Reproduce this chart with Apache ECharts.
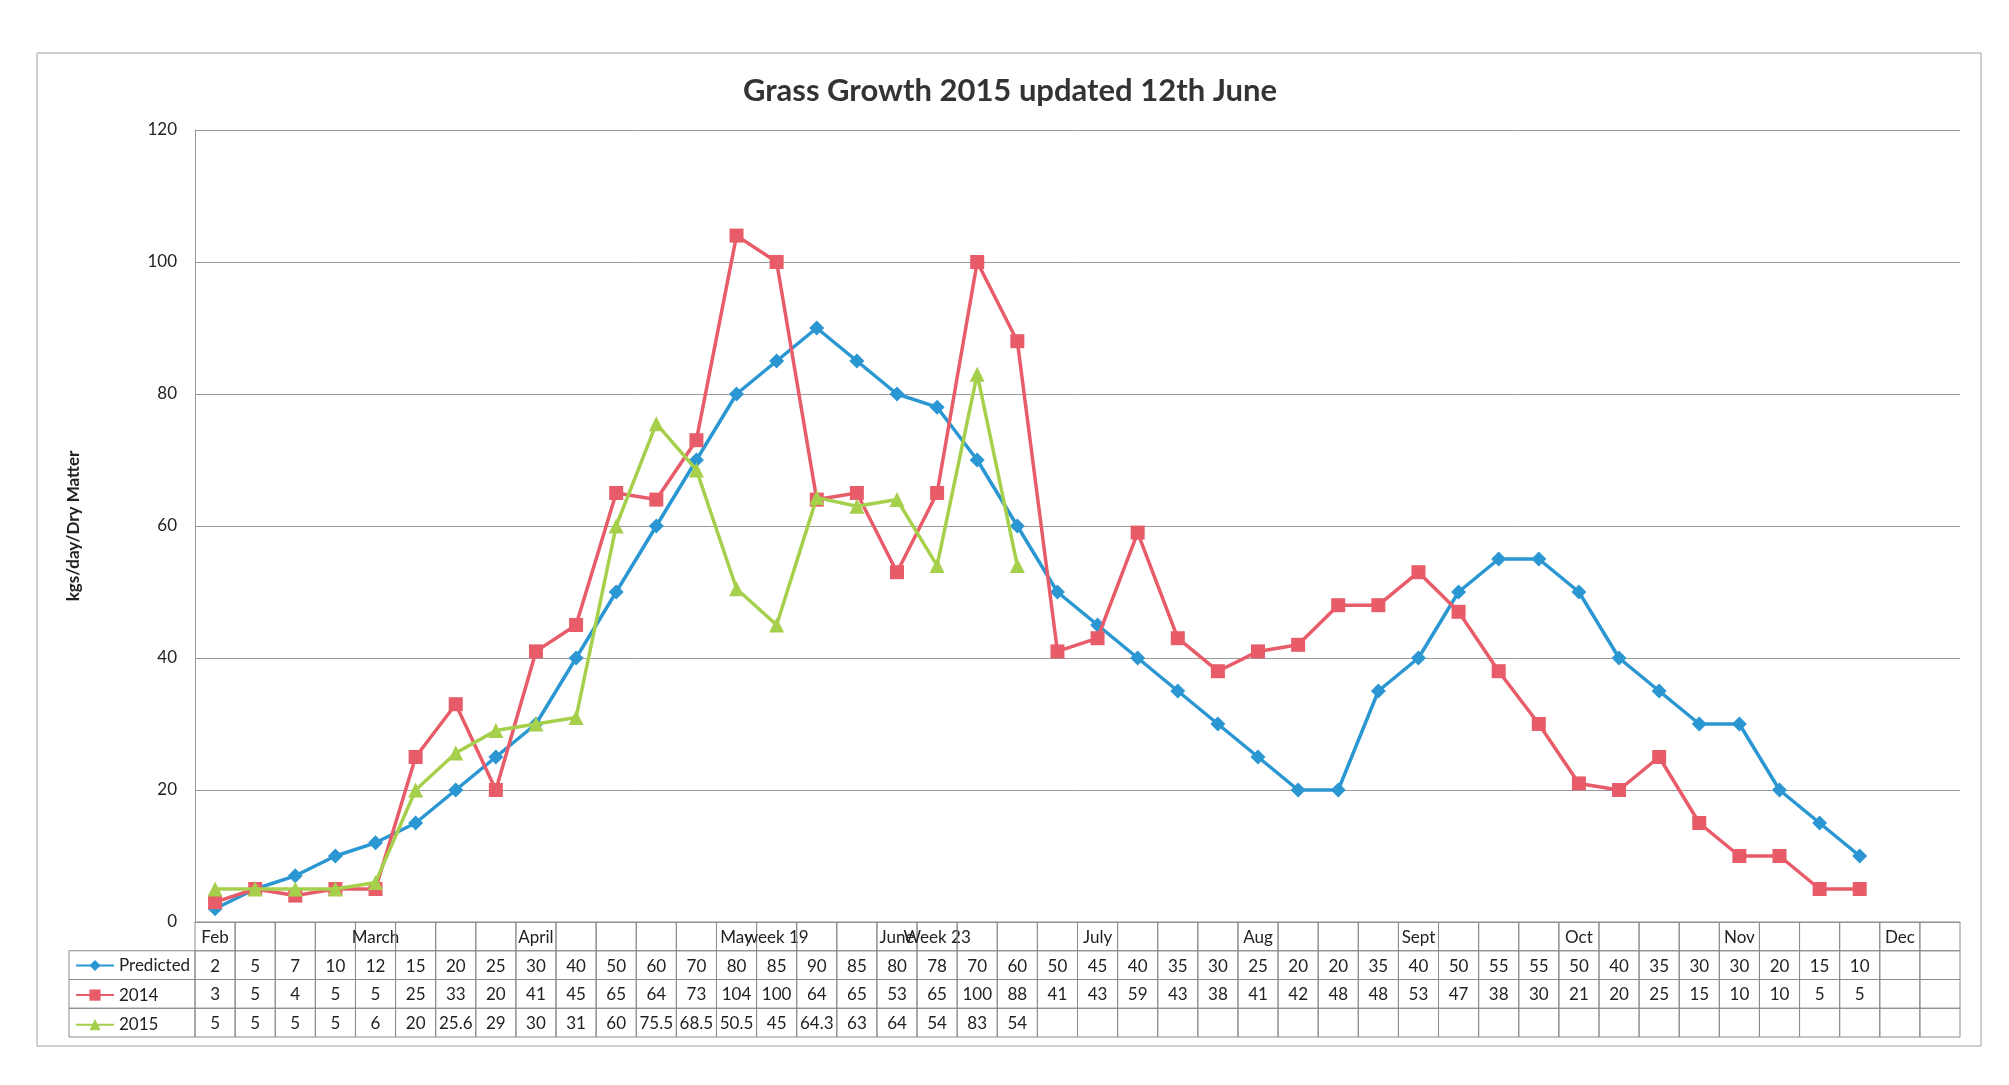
<!DOCTYPE html>
<html>
<head>
<meta charset="utf-8">
<script src="https://cdn.jsdelivr.net/npm/echarts@6/dist/echarts.min.js"></script>
<style>
  html, body { margin: 0; padding: 0; background: #fff; }
  #main { width: 2009px; height: 1085px; }
</style>
</head>
<body>
<div id="main"></div>
<script>
// column headings of the data table (one per week)
var weeks = ['Feb', '', '', '', 'March', '', '', '', 'April', '', '', '', '',
  'May', 'week 19', '', '', 'June', 'Week 23', '', '', '', 'July', '', '', '',
  'Aug', '', '', '', 'Sept', '', '', '', 'Oct', '', '', '', 'Nov', '', '', '',
  'Dec', ''];

var predicted = [2, 5, 7, 10, 12, 15, 20, 25, 30, 40, 50, 60, 70, 80, 85, 90, 85,
  80, 78, 70, 60, 50, 45, 40, 35, 30, 25, 20, 20, 35, 40, 50, 55, 55, 50, 40,
  35, 30, 30, 20, 15, 10];

var y2014 = [3, 5, 4, 5, 5, 25, 33, 20, 41, 45, 65, 64, 73, 104, 100, 64, 65,
  53, 65, 100, 88, 41, 43, 59, 43, 38, 41, 42, 48, 48, 53, 47, 38, 30, 21, 20,
  25, 15, 10, 10, 5, 5];

var y2015 = [5, 5, 5, 5, 6, 20, 25.6, 29, 30, 31, 60, 75.5, 68.5, 50.5, 45,
  64.3, 63, 64, 54, 83, 54];

var seriesNames = ['Predicted', '2014', '2015'];
var yTicks = [0, 20, 40, 60, 80, 100, 120];

var blue = '#2b97d2', red = '#e85c69', green = '#a6cf4c';
var gridGray = '#999';
var font = 'Lato, "Open Sans", sans-serif';

var myChart = echarts.init(document.getElementById('main'));

// table cells: [column, row], row 0 = heading, rows 1..3 = series values
var rows = [weeks, predicted, y2014, y2015];
var cells = [], cellText = [];
for (var c = 0; c < weeks.length; c++) {
  for (var r = 0; r < rows.length; r++) {
    var v = rows[r][c];
    cells.push([c, r]);
    cellText.push(v === undefined || v === null ? '' : String(v));
  }
}
// left legend column cells (one per series row)
var legendCells = [[0, 1], [0, 2], [0, 3]];

function pad(arr) {
  var out = arr.slice();
  while (out.length < weeks.length) out.push(null);
  return out;
}

var option = {
  backgroundColor: '#fff',
  animation: false,
  title: {
    text: 'Grass Growth 2015 updated 12th June',
    left: 1005,
    textAlign: 'center',
    top: 70,
    textStyle: { fontFamily: font, fontSize: 31, fontWeight: 'bold', color: '#333' }
  },
  graphic: [{
    type: 'rect',
    shape: { x: 37, y: 53, width: 1944, height: 993 },
    style: { fill: 'none', stroke: '#a0a0a0', lineWidth: 1 },
    silent: true
  }],
  legend: {
    data: seriesNames,
    orient: 'vertical',
    left: 70,
    top: 952,
    itemGap: 12.6,
    itemWidth: 38,
    itemHeight: 14,
    textStyle: { fontFamily: font, fontSize: 17, color: '#222' }
  },
  grid: [
    { left: 195, top: 130, width: 1765, height: 792 },
    { left: 195, top: 922, width: 1765, height: 115 }
  ],
  xAxis: [
    {
      type: 'category',
      data: weeks,
      boundaryGap: true,
      axisLine: { lineStyle: { color: gridGray } },
      axisTick: { show: false },
      axisLabel: { show: false }
    },
    {
      type: 'category',
      gridIndex: 1,
      data: weeks,
      show: false
    }
  ],
  yAxis: [
    {
      type: 'value',
      min: 0,
      max: yTicks[yTicks.length - 1],
      interval: 20,
      name: 'kgs/day/Dry Matter',
      nameLocation: 'middle',
      nameGap: 113,
      nameTextStyle: { fontFamily: font, fontSize: 17, fontWeight: 'bold', color: '#222' },
      axisLine: { show: true, lineStyle: { color: gridGray } },
      axisTick: { show: false },
      axisLabel: { fontFamily: font, fontSize: 17, color: '#222', margin: 18 },
      splitLine: { lineStyle: { color: gridGray, width: 1 } }
    },
    {
      type: 'category',
      gridIndex: 1,
      data: ['', 'Predicted', '2014', '2015'],
      inverse: true,
      show: false
    }
  ],
  series: [
    {
      name: 'Predicted',
      type: 'line',
      data: pad(predicted),
      symbol: 'diamond',
      symbolSize: 15,
      color: blue,
      lineStyle: { width: 3.5 },
      z: 2
    },
    {
      name: '2014',
      type: 'line',
      data: pad(y2014),
      symbol: 'rect',
      symbolSize: 14,
      color: red,
      lineStyle: { width: 3.5 },
      z: 3
    },
    {
      name: '2015',
      type: 'line',
      data: pad(y2015),
      symbol: 'triangle',
      symbolSize: 15,
      color: green,
      lineStyle: { width: 3.5 },
      z: 4
    },
    {
      type: 'custom',
      xAxisIndex: 1,
      yAxisIndex: 1,
      data: cells,
      silent: true,
      renderItem: function (params, api) {
        var p = api.coord([api.value(0), api.value(1)]);
        var s = api.size([1, 1]);
        return {
          type: 'group',
          children: [
            {
              type: 'rect',
              shape: { x: p[0] - s[0] / 2, y: p[1] - s[1] / 2, width: s[0], height: s[1] },
              style: { fill: 'none', stroke: '#8c8c8c', lineWidth: 1 }
            },
            {
              type: 'text',
              style: {
                text: cellText[params.dataIndex],
                x: p[0],
                y: p[1] + 1,
                align: 'center',
                verticalAlign: 'middle',
                fontFamily: font,
                fontSize: 17,
                fill: '#222'
              }
            }
          ]
        };
      }
    },
    {
      type: 'custom',
      xAxisIndex: 1,
      yAxisIndex: 1,
      data: legendCells,
      silent: true,
      renderItem: function (params, api) {
        var p = api.coord([api.value(0), api.value(1)]);
        var s = api.size([1, 1]);
        var right = p[0] - s[0] / 2;
        return {
          type: 'rect',
          shape: { x: 69, y: p[1] - s[1] / 2, width: right - 69, height: s[1] },
          style: { fill: 'none', stroke: '#8c8c8c', lineWidth: 1 }
        };
      }
    }
  ]
};

myChart.setOption(option);
</script>
</body>
</html>
